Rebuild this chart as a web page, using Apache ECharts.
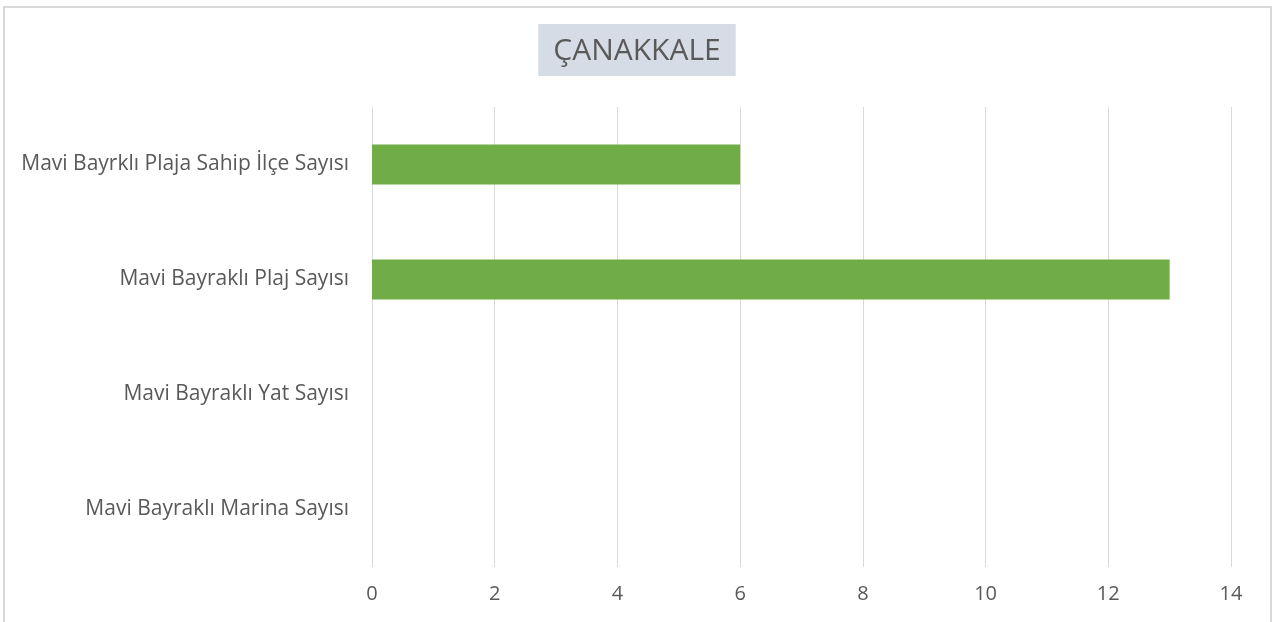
<!DOCTYPE html>
<html>
<head>
<meta charset="utf-8">
<script src="https://cdn.jsdelivr.net/npm/echarts@6/dist/echarts.min.js"></script>
<style>
  html, body { margin: 0; padding: 0; background: #fff; }
  #chart { width: 1274px; height: 622px; }
</style>
</head>
<body>
<div id="chart"></div>
<script>
const titleText = "ÇANAKKALE";
const categories = [
  "Mavi Bayraklı Marina Sayısı",
  "Mavi Bayraklı Yat Sayısı",
  "Mavi Bayraklı Plaj Sayısı",
  "Mavi Bayrklı Plaja Sahip İlçe Sayısı"
];
const values = [0, 0, 13, 6];
const axisMin = 0;
const axisMax = 14;
const axisStep = 2;

const myChart = echarts.init(document.getElementById("chart"));
myChart.setOption({
  animation: false,
  textStyle: { fontFamily: "Open Sans" },
  title: {
    text: titleText,
    left: "center",
    top: 24,
    backgroundColor: "#d6dce5",
    padding: [12, 15, 10, 15],
    textStyle: { color: "#595959", fontSize: 30, fontWeight: "normal", fontFamily: "Open Sans" }
  },
  graphic: [
    {
      type: "rect",
      shape: { x: 4, y: 7, width: 1267, height: 640 },
      style: { fill: "none", stroke: "#d9d9d9", lineWidth: 2 },
      silent: true
    }
  ],
  grid: { left: 372, right: 43, top: 107, bottom: 55 },
  xAxis: {
    type: "value",
    min: axisMin,
    max: axisMax,
    interval: axisStep,
    axisLine: { show: false },
    axisTick: { show: false },
    axisLabel: { color: "#595959", fontSize: 20, margin: 17 },
    splitLine: { lineStyle: { color: "#d9d9d9", width: 1 } }
  },
  yAxis: {
    type: "category",
    data: categories,
    axisLine: { show: false },
    axisTick: { show: false },
    axisLabel: { color: "#595959", fontSize: 21, margin: 23 }
  },
  series: [
    {
      type: "bar",
      data: values,
      barWidth: 40,
      itemStyle: { color: "#70ad47" }
    }
  ]
});
</script>
</body>
</html>
